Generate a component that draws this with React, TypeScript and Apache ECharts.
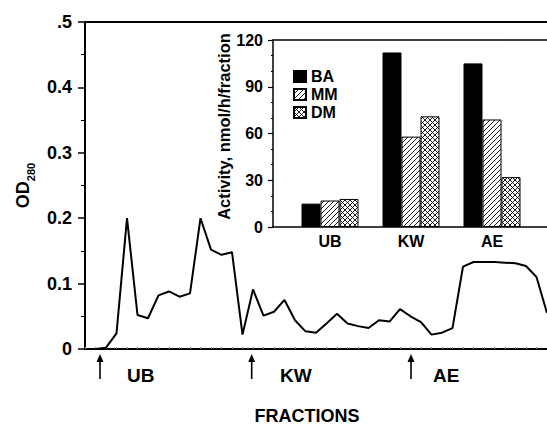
import React, { useEffect, useRef } from "react";
import * as echarts from "echarts";

// Main chromatogram: OD280 per fraction
const fractions = Array.from({ length: 44 }, (_, i) => i + 1);
const od280 = [
  0.0, 0.002, 0.024, 0.2, 0.052, 0.047, 0.082, 0.088, 0.08, 0.085,
  0.2, 0.152, 0.144, 0.148, 0.022, 0.091, 0.051, 0.057, 0.075, 0.044,
  0.027, 0.025, 0.039, 0.054, 0.039, 0.035, 0.032, 0.044, 0.042, 0.061,
  0.05, 0.041, 0.022, 0.025, 0.032, 0.126, 0.133, 0.133, 0.133, 0.132,
  0.131, 0.127, 0.11, 0.055,
];
const yTicks = ["0", "0.1", "0.2", "0.3", "0.4", ".5"];

// Inset: activity per peak
const insetCategories = ["UB", "KW", "AE"];
const seriesNames = ["BA", "MM", "DM"];
const baValues = [15, 112, 105];
const mmValues = [17, 58, 69];
const dmValues = [18, 71, 32];

// Peak markers under the x axis
const peakLabels = ["UB", "KW", "AE"];

const FONT = "'Liberation Sans', Arial, Helvetica, sans-serif";

function makePattern(cross: boolean) {
  const s = 5;
  const c = document.createElement("canvas");
  c.width = s;
  c.height = s;
  const ctx = c.getContext("2d")!;
  ctx.fillStyle = "#fff";
  ctx.fillRect(0, 0, s, s);
  ctx.strokeStyle = "#000";
  ctx.lineWidth = 0.9;
  ctx.beginPath();
  ctx.moveTo(-1, s + 1);
  ctx.lineTo(s + 1, -1);
  ctx.moveTo(-1, 1);
  ctx.lineTo(1, -1);
  ctx.moveTo(s - 1, s + 1);
  ctx.lineTo(s + 1, s - 1);
  if (cross) {
    ctx.moveTo(-1, -1);
    ctx.lineTo(s + 1, s + 1);
    ctx.moveTo(s - 1, -1);
    ctx.lineTo(s + 1, 1);
    ctx.moveTo(-1, s - 1);
    ctx.lineTo(1, s + 1);
  }
  ctx.stroke();
  return { image: c, repeat: "repeat" };
}

export default function App() {
  const ref = useRef<HTMLDivElement>(null);
  useEffect(() => {
    if (!ref.current) return;
    const chart = echarts.init(ref.current, null, { renderer: "svg" });
    const hatch = makePattern(false);
    const cross = makePattern(true);
    const arrowXs = [100, 251.7, 411];
    const labelXs = [127, 280, 433];
    const graphics: any[] = [];
    arrowXs.forEach((x) => {
      graphics.push({
        type: "line",
        shape: { x1: x, y1: 379, x2: x, y2: 359 },
        style: { stroke: "#000", lineWidth: 1.6 },
      });
      graphics.push({
        type: "polygon",
        shape: { points: [[x - 3.5, 362], [x, 354], [x + 3.5, 362]] },
        style: { fill: "#000" },
      });
    });
    peakLabels.forEach((t, i) => {
      graphics.push({
        type: "text",
        x: labelXs[i],
        y: 375,
        style: {
          text: t,
          fill: "#000",
          font: `bold 19px ${FONT}`,
          textVerticalAlign: "middle",
          verticalAlign: "middle",
        },
      });
    });
    graphics.push({
      type: "text",
      x: 307,
      y: 416,
      style: {
        text: "FRACTIONS",
        fill: "#000",
        font: `bold 18px ${FONT}`,
        align: "center",
        verticalAlign: "middle",
        textAlign: "center",
        textVerticalAlign: "middle",
      },
    });

    const hidden = {
      axisLabel: { show: false },
      axisTick: { show: false },
      splitLine: { show: false },
    };

    chart.setOption({
      animation: false,
      textStyle: { fontFamily: FONT, color: "#000" },
      grid: [
        { left: 85, right: 0, top: 22, bottom: 78 },
        { left: 289.5, right: 14.5, top: 40, bottom: 200 },
        { left: 273, right: -5, top: 40, bottom: 200 },
      ],
      legend: {
        show: true,
        data: seriesNames,
        orient: "vertical",
        left: 293,
        top: 68,
        icon: "rect",
        itemWidth: 12,
        itemHeight: 11,
        itemGap: 1,
        padding: 0,
        textStyle: {
          fontFamily: FONT,
          fontWeight: "bold",
          fontSize: 16,
          lineHeight: 17,
          color: "#000",
        },
      },
      xAxis: [
        {
          type: "value",
          gridIndex: 0,
          min: 0,
          max: 44,
          interval: 1,
          axisLine: { show: true, lineStyle: { color: "#000", width: 2 } },
          axisTick: { show: true, inside: true, length: 2, lineStyle: { color: "#888", width: 1 } },
          axisLabel: { show: false },
          splitLine: { show: false },
        },
        {
          type: "value",
          gridIndex: 0,
          position: "top",
          min: 0,
          max: 44,
          axisLine: { show: true, lineStyle: { color: "#000", width: 2 } },
          ...hidden,
        },
        {
          type: "category",
          gridIndex: 1,
          data: insetCategories,
          axisLine: { show: false },
          axisTick: { show: false },
          axisLabel: {
            show: true,
            margin: 6,
            fontFamily: FONT,
            fontWeight: "bold",
            fontSize: 16,
            color: "#000",
          },
        },
        {
          type: "value",
          gridIndex: 2,
          min: 0,
          max: 1,
          axisLine: { show: true, lineStyle: { color: "#000", width: 1.5 } },
          ...hidden,
        },
        {
          type: "value",
          gridIndex: 2,
          position: "top",
          min: 0,
          max: 1,
          axisLine: { show: true, lineStyle: { color: "#000", width: 1.5 } },
          ...hidden,
        },
      ],
      yAxis: [
        {
          type: "value",
          gridIndex: 0,
          min: 0,
          max: 0.5,
          interval: 0.1,
          name: "{a|OD}{b|280}",
          nameLocation: "middle",
          nameRotate: 90,
          nameGap: 46,
          nameTextStyle: {
            rich: {
              a: { fontFamily: FONT, fontWeight: "bold", fontSize: 18, lineHeight: 18, verticalAlign: "top", color: "#000" },
              b: { fontFamily: FONT, fontWeight: "bold", fontSize: 11, lineHeight: 11, padding: [15, 0, 0, 0], color: "#000" },
            },
          },
          axisLine: { show: true, lineStyle: { color: "#000", width: 2 } },
          axisTick: { show: true, length: 7, lineStyle: { color: "#000", width: 1.5 } },
          minorTick: { show: true, splitNumber: 2, length: 4, lineStyle: { color: "#000", width: 1 } },
          splitLine: { show: false },
          axisLabel: {
            margin: 13,
            fontFamily: FONT,
            fontWeight: "bold",
            fontSize: 18,
            color: "#000",
            formatter: (v: number) => yTicks[Math.round(v * 10)],
          },
        },
        {
          type: "value",
          gridIndex: 1,
          min: 0,
          max: 120,
          interval: 30,
          offset: 16.5,
          name: "Activity, nmol/h/fraction",
          nameLocation: "middle",
          nameRotate: 90,
          nameGap: 39,
          nameTextStyle: {
            fontFamily: FONT,
            fontWeight: "bold",
            fontSize: 16.5,
            color: "#000",
            padding: [0, 0, 0, 14],
          },
          axisLine: { show: true, lineStyle: { color: "#000", width: 1.5 } },
          axisTick: { show: true, length: 5, lineStyle: { color: "#000", width: 1.2 } },
          minorTick: { show: true, splitNumber: 3, length: 2, lineStyle: { color: "#000", width: 1 } },
          splitLine: { show: false },
          axisLabel: {
            margin: 10,
            fontFamily: FONT,
            fontWeight: "bold",
            fontSize: 16,
            color: "#000",
          },
        },
        {
          type: "value",
          gridIndex: 2,
          min: 0,
          max: 1,
          axisLine: { show: false },
          ...hidden,
        },
      ],
      series: [
        {
          type: "line",
          xAxisIndex: 0,
          yAxisIndex: 0,
          data: fractions.map((f, i) => [f, od280[i]]),
          showSymbol: false,
          symbol: "none",
          lineStyle: { color: "#000", width: 2 },
          clip: true,
        },
        {
          name: seriesNames[0],
          type: "bar",
          xAxisIndex: 2,
          yAxisIndex: 1,
          data: baValues,
          barWidth: 19,
          barGap: "0%",
          itemStyle: { color: "#000", borderColor: "#000", borderWidth: 1 },
        },
        {
          name: seriesNames[1],
          type: "bar",
          xAxisIndex: 2,
          yAxisIndex: 1,
          data: mmValues,
          barWidth: 19,
          barGap: "0%",
          itemStyle: { color: hatch, borderColor: "#000", borderWidth: 1 },
        },
        {
          name: seriesNames[2],
          type: "bar",
          xAxisIndex: 2,
          yAxisIndex: 1,
          data: dmValues,
          barWidth: 19,
          barGap: "0%",
          itemStyle: { color: cross, borderColor: "#000", borderWidth: 1 },
        },
      ],
      graphic: graphics,
    });
    return () => chart.dispose();
  }, []);
  return <div ref={ref} style={{ width: 547, height: 427, position: "absolute", left: 0, top: 0 }} />;
}
